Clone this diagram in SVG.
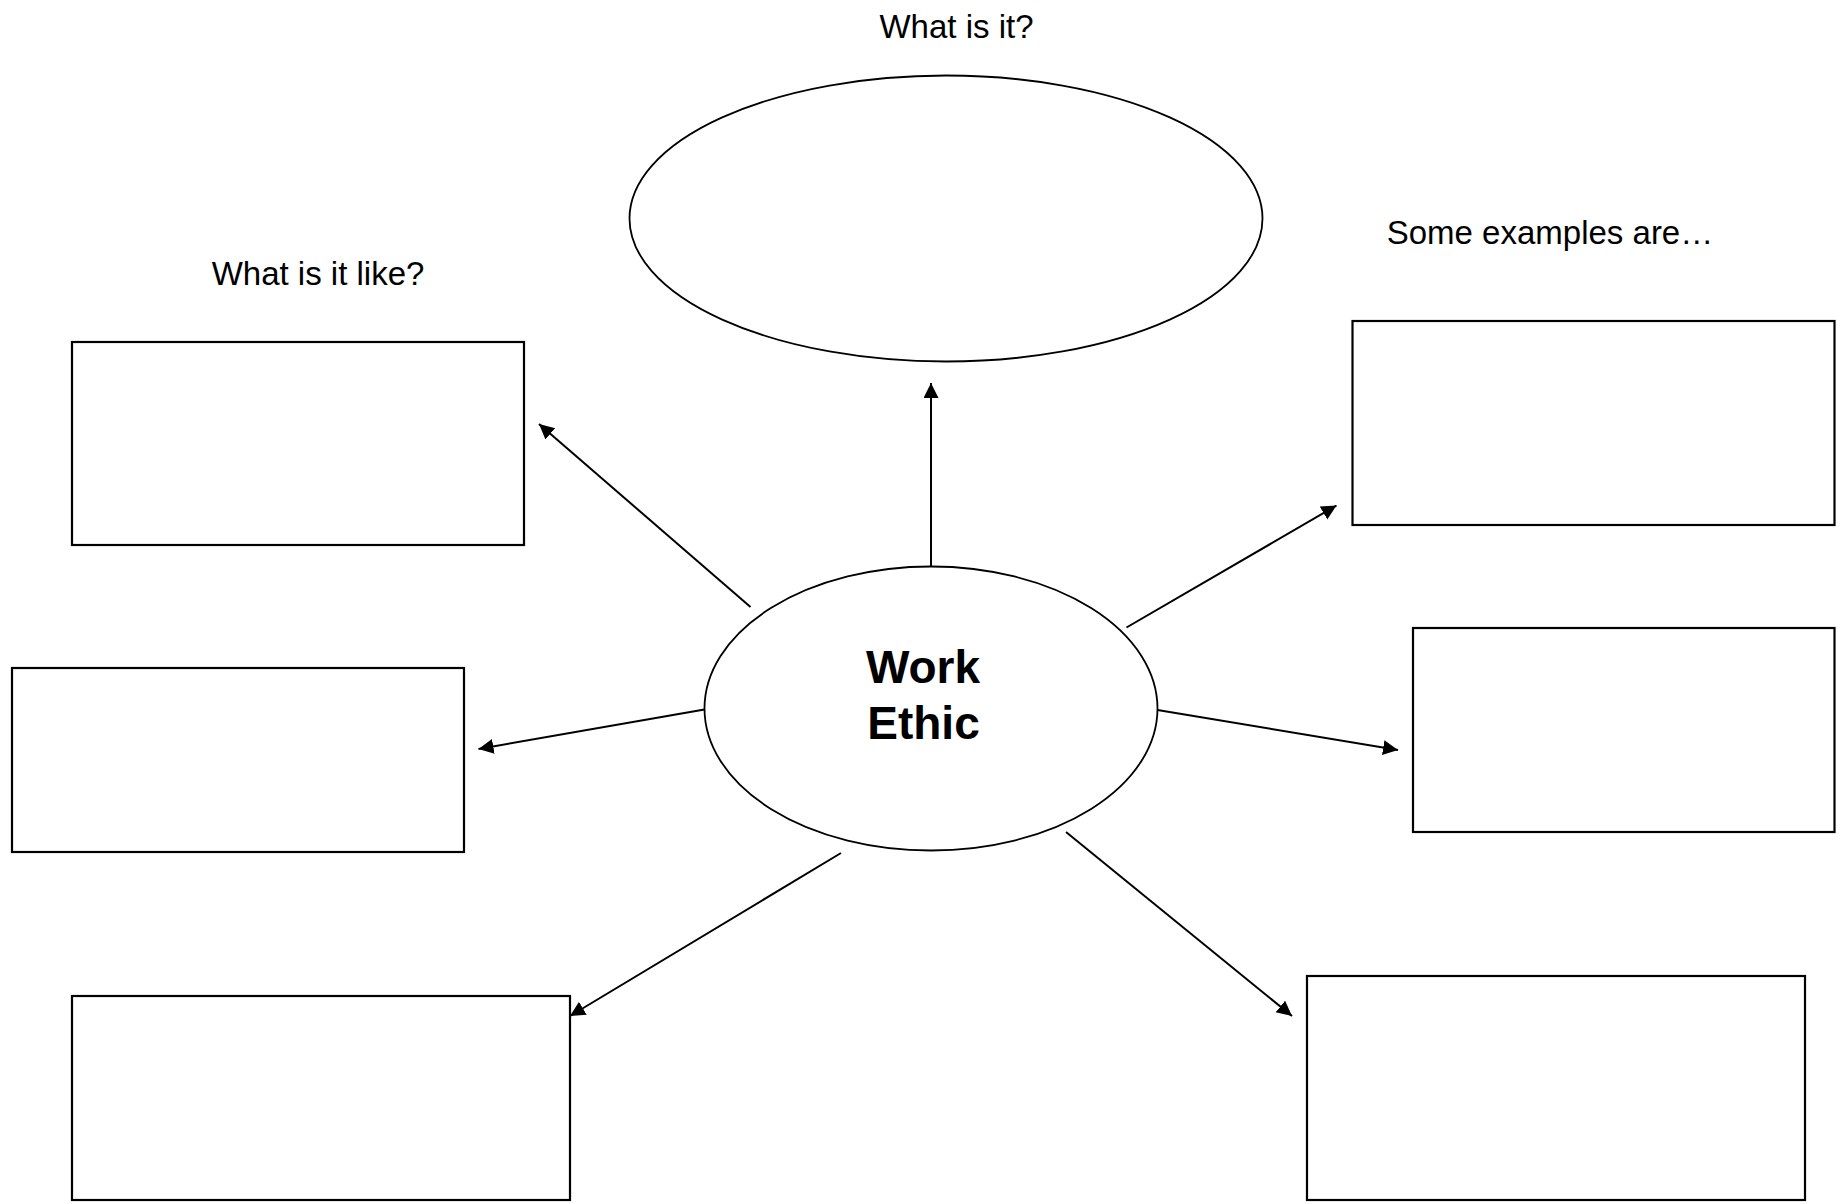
<svg xmlns="http://www.w3.org/2000/svg" width="1838" height="1204" viewBox="0 0 1838 1204">
  <style>
    .box { fill: #ffffff; stroke: #000000; stroke-width: 2.2; }
    .oval { fill: #ffffff; stroke: #000000; stroke-width: 1.8; }
    .conn { stroke: #000000; stroke-width: 2; fill: none; marker-end: url(#arrow); }
    .label { font-family: "Liberation Sans", Arial, sans-serif; font-size: 33px; fill: #000000; text-anchor: middle; }
    .title { font-family: "Liberation Sans", Arial, sans-serif; font-size: 46px; font-weight: bold; fill: #000000; text-anchor: middle; }
  </style>
  <defs>
    <marker id="arrow" markerUnits="userSpaceOnUse" markerWidth="16" markerHeight="16" viewBox="0 0 16 16" refX="15" refY="7.5" orient="auto">
      <path d="M0,0 L15,7.5 L0,15 z" fill="#000000"/>
    </marker>
  </defs>
  <rect width="1838" height="1204" fill="#ffffff"/>

  <g id="label-what-is-it">
    <text class="label" x="956.5" y="37.5">What is it?</text>
  </g>
  <g id="label-what-is-it-like">
    <text class="label" x="318" y="285">What is it like?</text>
  </g>
  <g id="label-some-examples">
    <text class="label" x="1550" y="243.5">Some examples are…</text>
  </g>

  <g id="node-definition">
    <ellipse class="oval" cx="946" cy="218.5" rx="316.5" ry="143"/>
  </g>
  <g id="node-center">
    <ellipse class="oval" cx="931" cy="708.5" rx="226.5" ry="142"/>
    <text class="title" x="923" y="683">Work</text>
    <text class="title" x="923.5" y="738.5">Ethic</text>
  </g>
  <g id="node-like-1">
    <rect class="box" x="72" y="342" width="452" height="203"/>
  </g>
  <g id="node-like-2">
    <rect class="box" x="12" y="668" width="452" height="184"/>
  </g>
  <g id="node-like-3">
    <rect class="box" x="72" y="996" width="498" height="204"/>
  </g>
  <g id="node-example-1">
    <rect class="box" x="1352.5" y="321" width="482" height="204"/>
  </g>
  <g id="node-example-2">
    <rect class="box" x="1413" y="628" width="421.5" height="204"/>
  </g>
  <g id="node-example-3">
    <rect class="box" x="1307" y="976" width="498" height="224"/>
  </g>

  <g id="connectors">
    <line class="conn" x1="931" y1="566" x2="931" y2="383"/>
    <line class="conn" x1="750.5" y1="607" x2="539" y2="424"/>
    <line class="conn" x1="704.5" y1="709.5" x2="478.5" y2="749"/>
    <line class="conn" x1="841" y1="853" x2="570" y2="1016"/>
    <line class="conn" x1="1066" y1="832" x2="1292" y2="1016"/>
    <line class="conn" x1="1157.5" y1="710" x2="1398" y2="750"/>
    <line class="conn" x1="1126.5" y1="627.5" x2="1336.5" y2="505.5"/>
  </g>
</svg>
